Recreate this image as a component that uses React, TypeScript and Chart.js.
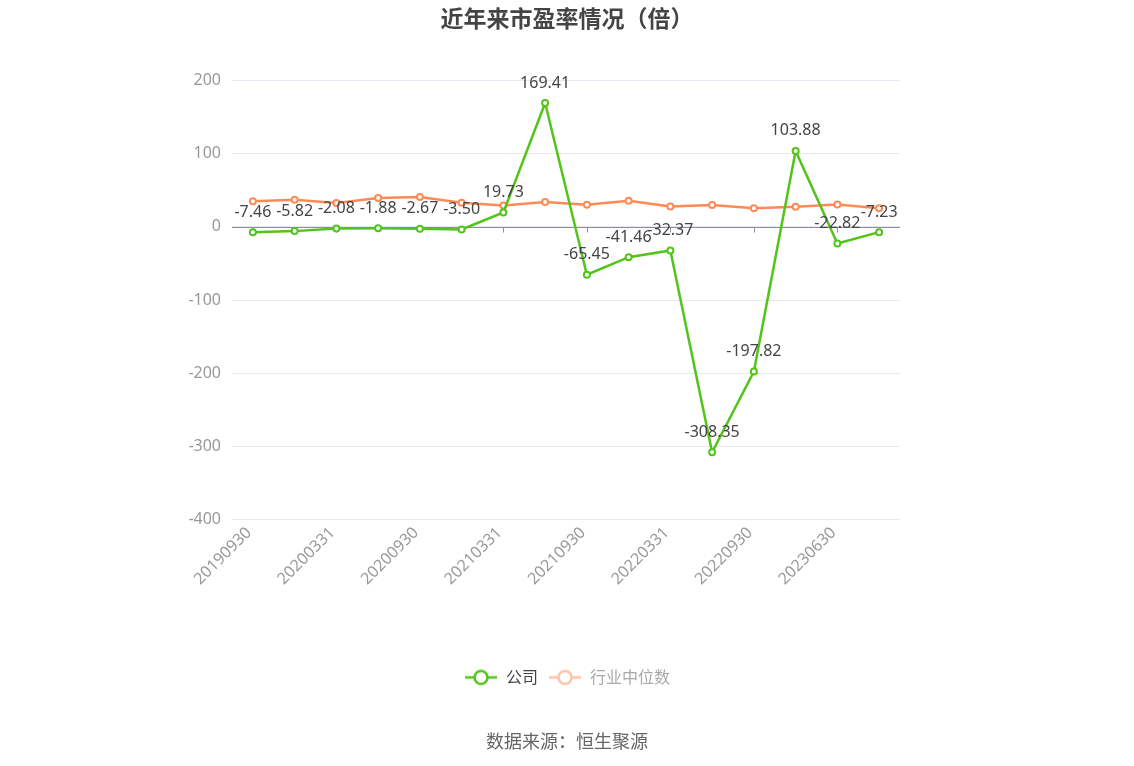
import React, { useEffect, useRef } from 'react';
import { Chart, registerables } from 'chart.js';

Chart.register(...registerables);

const categories = [
  '20190930', '20191231', '20200331', '20200630', '20200930', '20201231', '20210331', '20210630',
  '20210930', '20211231', '20220331', '20220630', '20220930', '20230331', '20230630', '20230930',
];
const companyPE = [
  -7.46, -5.82, -2.08, -1.88, -2.67, -3.5, 19.73, 169.41,
  -65.45, -41.46, -32.37, -308.35, -197.82, 103.88, -22.82, -7.23,
];
const industryPE = [
  34.9, 37.2, 32.6, 39.5, 40.9, 33.0, 29.3, 34.0,
  30.2, 35.8, 27.9, 29.8, 25.6, 27.4, 30.7, 25.6,
];

const FONT = '"Noto Sans", "Noto Sans CJK SC", sans-serif';
const CJK_FONT = '"Noto Sans CJK SC", "Noto Sans", sans-serif';
const GREEN = '#52c41a';
const ORANGE = '#ff8a56';

// small legend icon: line with hollow circle, like the original
const makeIcon = (color: string) => {
  const c = document.createElement('canvas');
  c.width = 34;
  c.height = 18;
  const g = c.getContext('2d')!;
  g.strokeStyle = color;
  g.lineWidth = 2.5;
  g.beginPath();
  g.moveTo(1, 9);
  g.lineTo(33, 9);
  g.stroke();
  g.fillStyle = '#fff';
  g.beginPath();
  g.arc(17, 9, 6.5, 0, Math.PI * 2);
  g.fill();
  g.stroke();
  return c;
};

const zeroAxisPlugin = {
  id: 'zeroAxis',
  beforeDatasetsDraw(chart: any) {
    const { ctx, chartArea, scales } = chart;
    const y = Math.round(scales.y.getPixelForValue(0)) + 0.5;
    ctx.save();
    ctx.strokeStyle = '#8c8f99';
    ctx.lineWidth = 1;
    ctx.beginPath();
    ctx.moveTo(chartArea.left, y);
    ctx.lineTo(chartArea.right, y);
    categories.forEach((_, i) => {
      if (i % 2 !== 0) return;
      const x = Math.round(scales.x.getPixelForValue(i)) + 0.5;
      ctx.moveTo(x, y);
      ctx.lineTo(x, y + 5);
    });
    ctx.stroke();
    ctx.restore();
  },
};

const valueLabelPlugin = {
  id: 'valueLabels',
  afterDatasetsDraw(chart: any) {
    const { ctx } = chart;
    const meta = chart.getDatasetMeta(0);
    ctx.save();
    ctx.font = `16px ${FONT}`;
    ctx.fillStyle = '#444';
    ctx.textAlign = 'center';
    ctx.textBaseline = 'middle';
    meta.data.forEach((pt: any, i: number) => {
      ctx.fillText(companyPE[i].toFixed(2), pt.x, pt.y - 20);
    });
    ctx.restore();
  },
};

const PEChart: React.FC = () => {
  const canvasRef = useRef<HTMLCanvasElement | null>(null);

  useEffect(() => {
    if (!canvasRef.current) return;
    const greenIcon = makeIcon(GREEN);
    const orangeIcon = makeIcon('#ffc3a8');

    const chart = new Chart(canvasRef.current, {
      type: 'line',
      data: {
        labels: categories,
        datasets: [
          {
            label: '公司',
            data: companyPE,
            borderColor: GREEN,
            backgroundColor: '#fff',
            borderWidth: 2.5,
            pointRadius: 3,
            pointBorderWidth: 2,
            pointBackgroundColor: '#fff',
            pointBorderColor: GREEN,
            tension: 0,
          },
          {
            label: '行业中位数',
            data: industryPE,
            borderColor: ORANGE,
            backgroundColor: '#fff',
            borderWidth: 2.5,
            pointRadius: 3,
            pointBorderWidth: 2,
            pointBackgroundColor: '#fff',
            pointBorderColor: ORANGE,
            tension: 0,
          },
        ],
      },
      options: {
        responsive: true,
        maintainAspectRatio: false,
        animation: false,
        layout: { padding: 0 },
        plugins: {
          title: {
            display: true,
            text: '近年来市盈率情况（倍）',
            color: '#444',
            font: { family: CJK_FONT, size: 23, weight: 'bold' },
            padding: { top: 4, bottom: 49 },
          },
          subtitle: {
            display: true,
            position: 'bottom',
            text: '数据来源：恒生聚源',
            color: '#666',
            font: { family: CJK_FONT, size: 18, weight: 'normal' },
            padding: { top: 35, bottom: 14 },
          },
          legend: {
            position: 'bottom',
            onClick: () => {},
            labels: {
              usePointStyle: true,
              pointStyleWidth: 34,
              padding: 10,
              font: { family: CJK_FONT, size: 16 },
              generateLabels: () => [
                {
                  text: '公司',
                  pointStyle: greenIcon,
                  fontColor: '#444',
                  strokeStyle: GREEN,
                  fillStyle: '#fff',
                  lineWidth: 0,
                  hidden: false,
                  datasetIndex: 0,
                },
                {
                  text: '行业中位数',
                  pointStyle: orangeIcon,
                  fontColor: '#aaa',
                  strokeStyle: ORANGE,
                  fillStyle: '#fff',
                  lineWidth: 0,
                  hidden: false,
                  datasetIndex: 1,
                },
              ],
            },
          },
          tooltip: { enabled: false },
        },
        scales: {
          x: {
            offset: true,
            grid: { display: false, drawTicks: false },
            border: { display: false },
            afterFit: (scale: any) => {
              scale.height = 140;
            },
            ticks: {
              autoSkip: false,
              maxRotation: 45,
              minRotation: 45,
              padding: 4,
              labelOffset: -4,
              color: '#999',
              font: { family: FONT, size: 16 },
              callback: (_v: any, i: number) => (i % 2 === 0 ? categories[i] : ''),
            },
          },
          y: {
            min: -400,
            max: 200,
            afterFit: (scale: any) => {
              scale.width = 232;
            },
            border: { display: false },
            grid: {
              color: '#e6e9f1',
              drawTicks: false,
            },
            ticks: {
              stepSize: 100,
              padding: 11,
              color: '#999',
              font: { family: FONT, size: 16 },
            },
          },
          // empty right axis just to keep the plot area centred like the original
          yRight: {
            position: 'right',
            min: -400,
            max: 200,
            afterFit: (scale: any) => {
              scale.width = 234;
            },
            border: { display: false },
            grid: { display: false, drawTicks: false },
            ticks: { display: false },
          },
        },
      },
      plugins: [zeroAxisPlugin, valueLabelPlugin],
    });

    return () => {
      chart.destroy();
    };
  }, []);

  return <canvas ref={canvasRef}></canvas>;
};

export default function App() {
  return (
    <div style={{ position: 'fixed', left: 0, top: 0, width: 1134, height: 766, background: '#fff' }}>
      <PEChart />
    </div>
  );
}
